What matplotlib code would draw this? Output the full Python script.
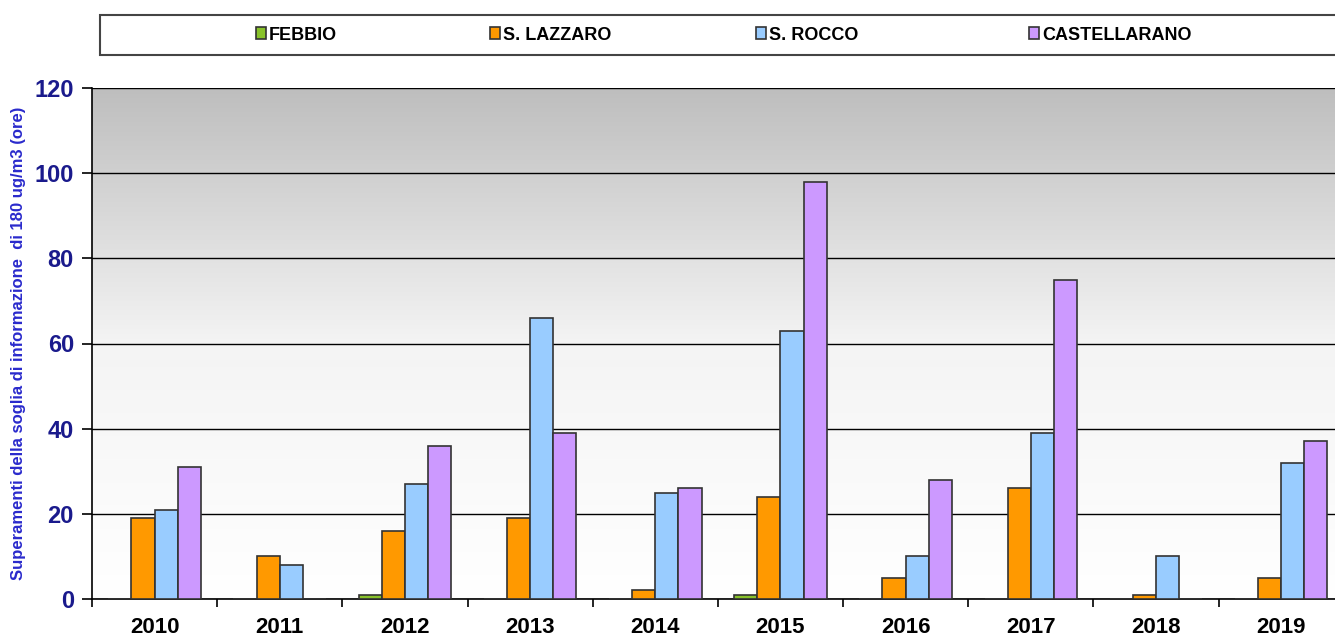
import numpy as np
import matplotlib
matplotlib.use("Agg")
import matplotlib.pyplot as plt
from matplotlib.patches import Rectangle
from matplotlib.colors import LinearSegmentedColormap

plt.rcParams['font.family'] = ['Liberation Sans', 'DejaVu Sans']

anni = ['2010', '2011', '2012', '2013', '2014', '2015', '2016', '2017', '2018', '2019']
stazioni = ['FEBBIO', 'S. LAZZARO', 'S. ROCCO', 'CASTELLARANO']
febbio = [0, 0, 1, 0, 0, 1, 0, 0, 0, 0]
s_lazzaro = [19, 10, 16, 19, 2, 24, 5, 26, 1, 5]
s_rocco = [21, 8, 27, 66, 25, 63, 10, 39, 10, 32]
castellarano = [31, 0, 36, 39, 26, 98, 28, 75, 0, 37]
colori = ['#88c22a', '#ff9900', '#99ccff', '#cc99ff']

serie = [febbio, s_lazzaro, s_rocco, castellarano]

fig = plt.figure(figsize=(13.35, 6.38), dpi=100)
ax = fig.add_axes([92 / 1335, 39 / 638, 1243 / 1335, 511 / 638])

# sfondo sfumato grigio -> bianco
sfondo = LinearSegmentedColormap.from_list('sfondo', ['#ffffff', '#f4f4f4', '#bebebe'])
grad = np.linspace(0, 1, 256).reshape(-1, 1)
ax.imshow(grad, extent=[-0.5, 9.43, 0, 120], aspect='auto', cmap=sfondo,
          origin='lower', zorder=0)

x = np.arange(len(anni))
w = 0.185
barre = []
for i, (vals, nome, col) in enumerate(zip(serie, stazioni, colori)):
    b = ax.bar(x + (i - 1.5) * w, vals, w, color=col, edgecolor='#333333',
               linewidth=1.2, label=nome, zorder=3)
    barre.append(b)

ax.set_xlim(-0.5, 9.43)
ax.set_ylim(0, 120)
ax.set_yticks(range(0, 121, 20))
ax.yaxis.grid(True, color='black', linewidth=1.0)
for gl in ax.get_ygridlines():
    gl.set_zorder(1)

ax.set_xticks(np.arange(-0.5, 9.5, 1))
ax.set_xticklabels([])
ax.set_xticks(x, minor=True)
ax.set_xticklabels(anni, minor=True, fontsize=16, fontweight='bold')
ax.tick_params(axis='x', which='minor', length=0, pad=13)
ax.tick_params(axis='x', which='major', length=6, width=1.2, direction='out')
ax.tick_params(axis='y', length=7, width=1.2, direction='out', labelsize=17,
               labelcolor='#1a1a8c', pad=6)
for lab in ax.get_yticklabels():
    lab.set_fontweight('bold')

for s in ['top', 'right']:
    ax.spines[s].set_visible(False)
ax.spines['left'].set_linewidth(1.2)
ax.spines['bottom'].set_linewidth(1.2)

ax.set_ylabel('Superamenti della soglia di informazione  di 180 ug/m3 (ore)',
              fontsize=12, fontweight='bold', color='#2a2acc')
ax.yaxis.set_label_coords(-66 / 1243, 0.5)

# legenda in riquadro
fig.patches.append(Rectangle((100 / 1335, 1 - 55 / 638), 1240 / 1335, 40 / 638,
                             transform=fig.transFigure, facecolor='white',
                             edgecolor='#444444', linewidth=1.5))
pos_leg = [252, 486, 752, 1025]
for b, nome, px in zip(barre, stazioni, pos_leg):
    fig.legend([b], [nome], loc='center left', bbox_to_anchor=(px / 1335, 1 - 35 / 638),
               frameon=False, borderaxespad=0, borderpad=0.2,
               prop={'weight': 'bold', 'size': 13},
               handlelength=0.6, handleheight=0.6, handletextpad=0.15)

fig.savefig('out.png', dpi=100)
